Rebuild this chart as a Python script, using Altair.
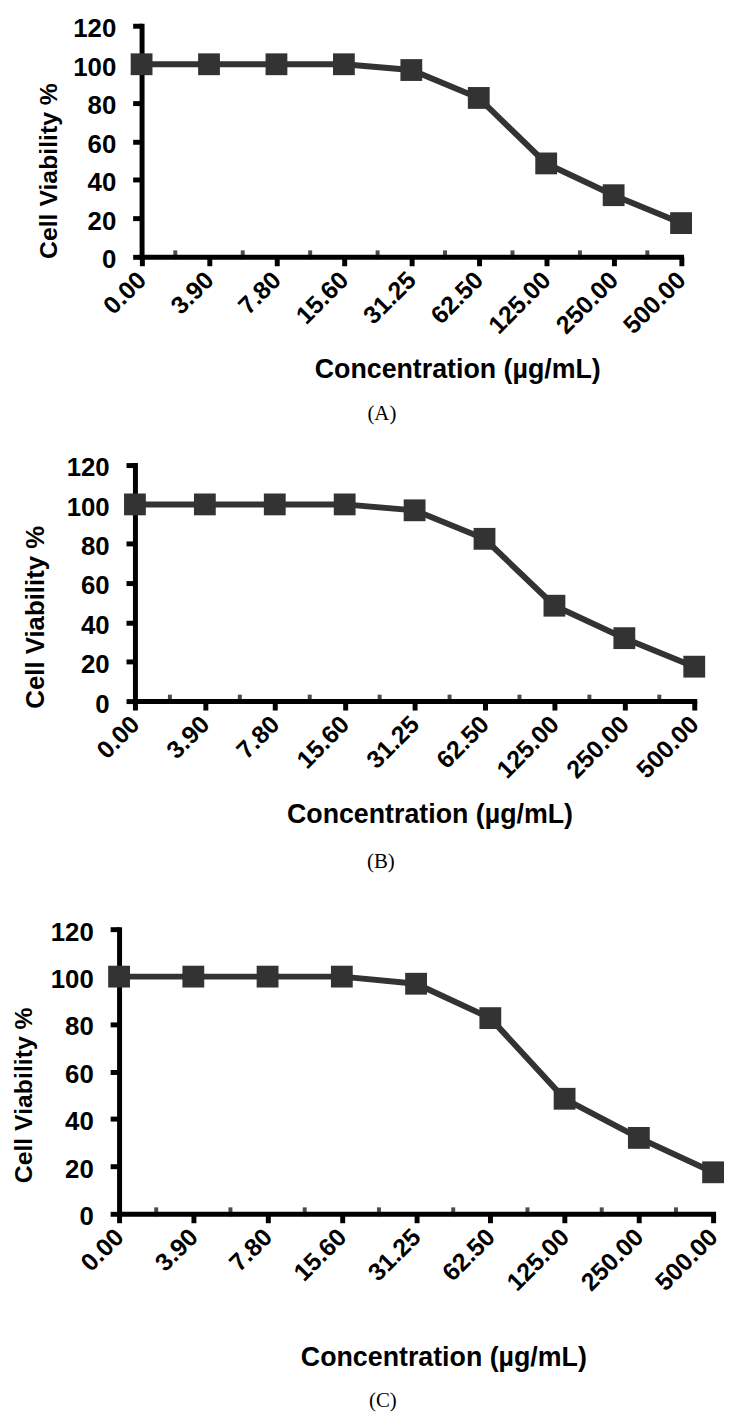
import altair as alt
import pandas as pd

# ---- data ----
conc_labels = ["0.00", "3.90", "7.80", "15.60", "31.25", "62.50", "125.00", "250.00", "500.00"]
viability_a = [100, 100, 100, 100, 97, 82.5, 48.5, 32, 17.5]
viability_b = [100, 100, 100, 100, 97, 82.5, 48.5, 32, 17.5]
viability_c = [100, 100, 100, 100, 97, 82.5, 48.5, 32, 17.5]
y_ticks = [0, 20, 40, 60, 80, 100, 120]
captions = ["(A)", "(B)", "(C)"]

INK = "#333333"
SANS = "Liberation Sans"
SERIF = "Liberation Serif"
ORIGIN_X = 120  # page x of the common group origin

label_js = "[" + ",".join("'%s'" % s for s in conc_labels) + "][datum.value]"


def panel(values, caption, off, plot_w, plot_h, yt_x, yt_y, yt_size,
          xt_cx, xt_dy, cap_cx, cap_offset):
    n = len(conc_labels)
    df = pd.DataFrame({"idx": list(range(n)), "conc": conc_labels, "viability": values})
    minor = pd.DataFrame({"mid": [i + 0.5 for i in range(n - 1)], "zero": [0] * (n - 1)})
    width = off + plot_w

    xscale = alt.Scale(domain=[0, n - 1], range=[off, off + plot_w], nice=False, zero=False)
    yscale = alt.Scale(domain=[0, 120], nice=False)

    xaxis = alt.Axis(
        values=list(range(n)), labelExpr=label_js,
        labelAngle=-45, labelAlign="right", labelBaseline="middle",
        labelFont=SANS, labelFontSize=25, labelFontWeight="bold", labelColor="black",
        labelPadding=10, labelOverlap=False, labelFlush=False,
        tickSize=9, tickWidth=5, tickColor="black",
        domainWidth=5, domainColor="black", domainCap="square", grid=False,
        title="Concentration (µg/mL)", titleFont=SANS, titleFontSize=27,
        titleFontWeight="bold", titleColor="black",
        titleX=xt_cx - ORIGIN_X, titleY=xt_dy, titleAlign="center", titleBaseline="middle",
    )
    yaxis = alt.Axis(
        values=y_ticks, offset=-off,
        labelFont=SANS, labelFontSize=26, labelFontWeight="bold", labelColor="black",
        labelPadding=17, labelOffset=3,
        tickSize=9, tickWidth=5, tickColor="black",
        domainWidth=5, domainColor="black", domainCap="square", grid=False,
        title="Cell Viability %", titleFont=SANS, titleFontSize=yt_size,
        titleFontWeight="bold", titleColor="black", titleAngle=270,
        titleX=yt_x, titleY=yt_y, titleAlign="center", titleBaseline="middle",
    )

    base = alt.Chart(df).encode(
        x=alt.X("idx:Q", scale=xscale, axis=xaxis),
        y=alt.Y("viability:Q", scale=yscale, axis=yaxis),
    )
    line = base.mark_line(color=INK, strokeWidth=6)
    pts = base.mark_point(shape="square", filled=True, size=484, color=INK, opacity=1)
    ticks = alt.Chart(minor).mark_tick(
        orient="vertical", color="black", thickness=4, size=9, yOffset=-2
    ).encode(
        x=alt.X("mid:Q", scale=xscale, axis=xaxis),
        y=alt.Y("zero:Q", scale=yscale, axis=yaxis),
    )
    return alt.layer(line, ticks, pts).properties(
        width=width, height=plot_h,
        title=alt.TitleParams(
            caption, orient="bottom", anchor="middle", frame="group",
            dx=cap_cx - (ORIGIN_X + width / 2), offset=cap_offset,
            font=SERIF, fontSize=21, fontWeight="normal", color="black",
        ),
    )


pa = panel(viability_a, captions[0], 22.7, 544, 233, -94, 146, 25, 461, 114, 385, 21)
pb = panel(viability_b, captions[1], 16, 564, 238, -100, 153, 26, 433, 114, 384, 24)
pc = panel(viability_c, captions[2], 0, 599, 287, -96.5, 167, 25, 447, 145, 386, 20)

chart = alt.vconcat(
    alt.vconcat(pa, pb, spacing=31),
    pc, spacing=48,
).properties(
    padding={"left": 3, "top": 2, "right": 0, "bottom": 0}
).configure(
    background="white",
    view=alt.ViewConfig(stroke=None),
)

chart.save("out.html", embed_options={"renderer": "svg", "actions": False})
